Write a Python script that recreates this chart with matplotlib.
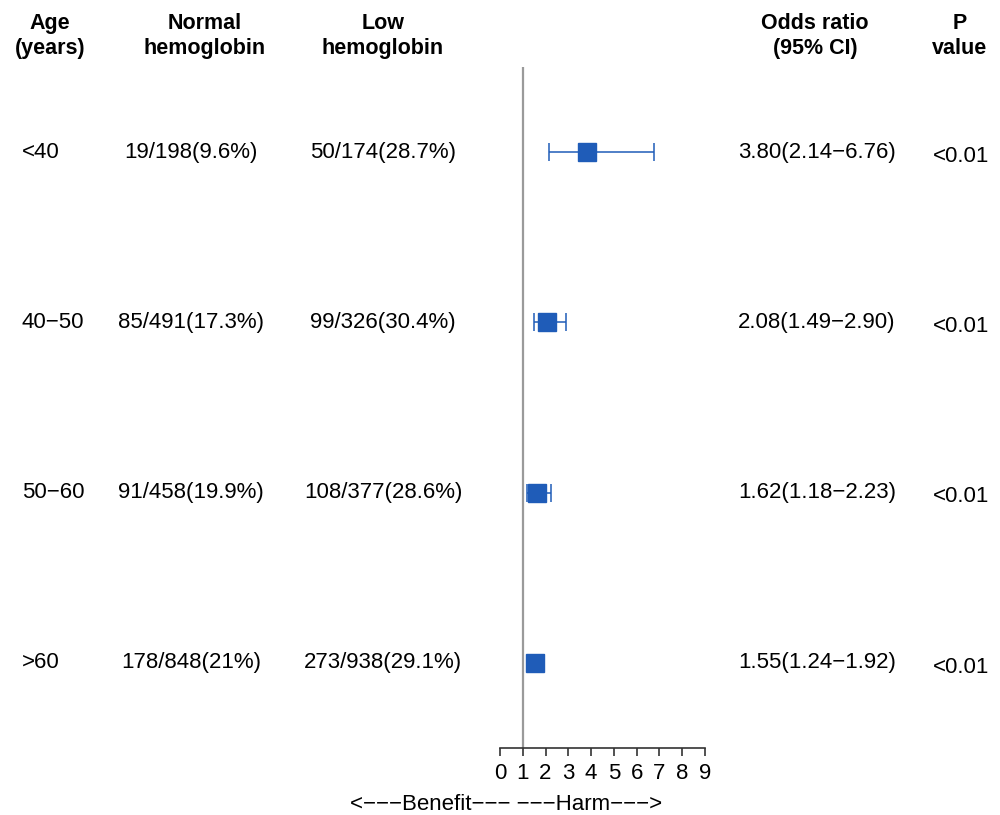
#!/usr/bin/env python3
"""Forest plot: odds ratio of low vs normal hemoglobin by age group."""
import matplotlib

matplotlib.use("Agg")
import matplotlib.pyplot as plt
import matplotlib.transforms as mtransforms

age_groups = ["<40", "40\u221250", "50\u221260", ">60"]
normal_hb = ["19/198(9.6%)", "85/491(17.3%)", "91/458(19.9%)", "178/848(21%)"]
low_hb = ["50/174(28.7%)", "99/326(30.4%)", "108/377(28.6%)", "273/938(29.1%)"]
odds_ratio = [3.80, 2.08, 1.62, 1.55]
ci_low = [2.14, 1.49, 1.18, 1.24]
ci_high = [6.76, 2.90, 2.23, 1.92]
p_values = ["<0.01", "<0.01", "<0.01", "<0.01"]
x_ticks = list(range(0, 10))

BLUE = "#1f5cb8"
W, H = 1000, 815

plt.rcParams["font.family"] = ["Liberation Sans", "DejaVu Sans"]

fig = plt.figure(figsize=(W / 100, H / 100), dpi=100)
# forest panel: x 500..705 px, y 67..748 px
ax = fig.add_axes([500 / W, (H - 748) / H, 205 / W, (748 - 67) / H])
ax.set_xlim(0, 9)
ax.set_ylim(len(age_groups) - 0.5, -0.5)

rows = list(range(len(age_groups)))
ax.axvline(1, color="#9a9a9a", lw=1.6, zorder=1)
for i in rows:
    # capsize is half the cap length -> ~18 px caps, same height as the box
    ax.errorbar(odds_ratio[i], i, xerr=[[odds_ratio[i] - ci_low[i]], [ci_high[i] - odds_ratio[i]]],
                fmt="none", ecolor=BLUE, elinewidth=1.1, capsize=6.3, capthick=1.1, zorder=2)
    ax.plot(odds_ratio[i], i, marker="s", ms=13.6, color=BLUE, mec=BLUE, zorder=3)

for s in ("top", "right", "left"):
    ax.spines[s].set_visible(False)
ax.spines["bottom"].set_color("#333333")
ax.spines["bottom"].set_linewidth(1.2)
ax.set_yticks([])
ax.set_xticks(x_ticks)
ax.tick_params(axis="x", length=6, width=1.2, color="#333333", labelsize=16, pad=5)
ax.patch.set_alpha(0)

# text columns
tr = mtransforms.blended_transform_factory(fig.transFigure, ax.transData)
fs_body = 16
for i in rows:
    ax.text(22 / W, i, age_groups[i], transform=tr, ha="left", va="center", fontsize=fs_body)
    ax.text(191 / W, i, normal_hb[i], transform=tr, ha="center", va="center", fontsize=fs_body)
    ax.text(383 / W, i, low_hb[i], transform=tr, ha="center", va="center", fontsize=fs_body)
    ax.text(817 / W, i, f"{odds_ratio[i]:.2f}({ci_low[i]:.2f}\u2212{ci_high[i]:.2f})",
            transform=tr, ha="center", va="center", fontsize=fs_body)
    ax.text(961 / W, i + 0.025, p_values[i], transform=tr, ha="center", va="center", fontsize=fs_body)

headers = [(50, "Age\n(years)"), (205, "Normal\nhemoglobin"), (383, "Low\nhemoglobin"),
           (815, "Odds ratio\n(95% CI)"), (960, "P\nvalue")]
for x, label in headers:
    fig.text(x / W, 1 - 36 / H, label, ha="center", va="center", fontsize=15.5,
             fontweight="bold", linespacing=1.2)

fig.text(506 / W, 1 - 804 / H, "<\u2212\u2212\u2212Benefit\u2212\u2212\u2212 \u2212\u2212\u2212Harm\u2212\u2212\u2212>",
         ha="center", va="center", fontsize=fs_body)

fig.savefig("out.png", dpi=100)
